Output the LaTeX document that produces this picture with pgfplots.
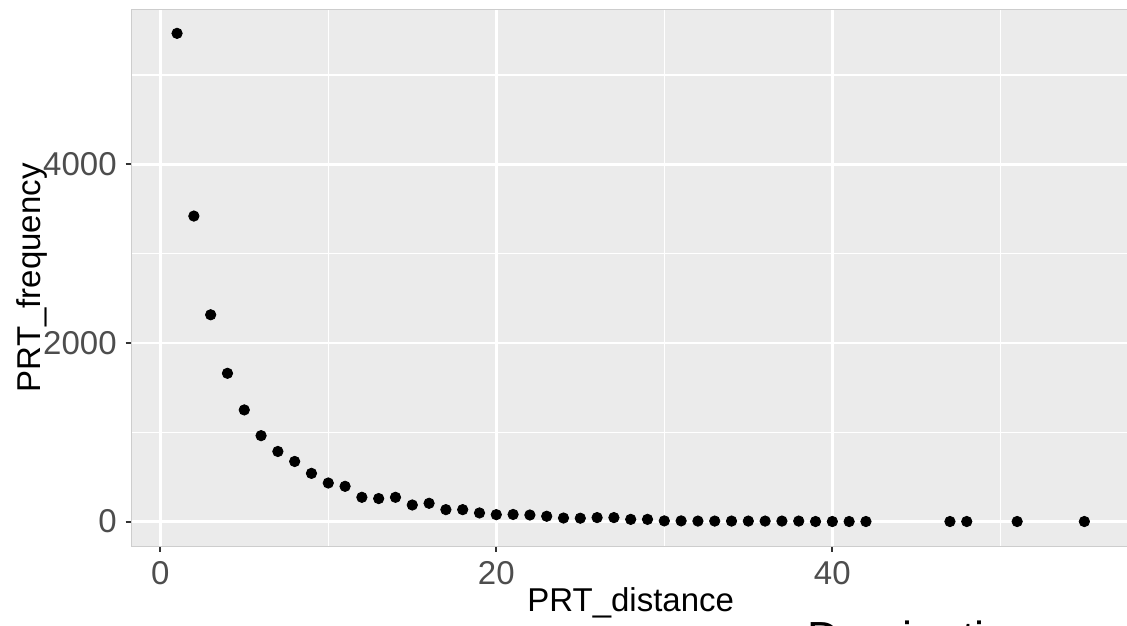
\documentclass[border=0pt]{standalone}
\usepackage{pgfplots}
\pgfplotsset{compat=1.18}
\usepackage{fontspec}
\setmainfont{Liberation Sans}
\definecolor{panelbg}{HTML}{EBEBEB}
\definecolor{ticklab}{HTML}{4D4D4D}
\definecolor{tickcol}{HTML}{333333}
\begin{document}
\begin{tikzpicture}
\begin{axis}[
  name=ax,
  scale only axis,
  width=499pt, height=268.2pt,
  xmin=-1.7, xmax=57.7, ymin=-273, ymax=5731,
  xtick={0,20,40}, ytick={0,2000,4000},
  minor xtick={10,30,50}, minor ytick={1000,3000,5000},
  grid=both,
  major grid style={white, line width=1.4pt},
  minor grid style={white, line width=0.7pt},
  axis background/.style={fill=panelbg},
  axis line style={draw={rgb,255:red,205;green,205;blue,205}, line width=0.4pt},
  tick align=outside,
  xtick pos=left, ytick pos=left,
  major tick length=3pt, minor tick length=0pt,
  tick style={tickcol, line width=0.9pt},
  scaled y ticks=false,
  /pgf/number format/assume math mode=true,
  /pgf/number format/1000 sep={},
  ticklabel style={font=\fontsize{16.5}{18}\selectfont, text=ticklab},
  xticklabel style={yshift=-1pt},
  yticklabel style={xshift=-1pt},
  xlabel={PRT\_distance},
  ylabel={PRT\_frequency},
  every axis x label/.style={at={(axis description cs:0.5,-0.123)}, anchor=base, font=\fontsize{16.5}{18}\selectfont, text=black},
  every axis y label/.style={at={(axis description cs:-0.0909,0.5)}, anchor=base, rotate=90, font=\fontsize{16.5}{18}\selectfont, text=black},
  clip=true,
]
\addplot[only marks, mark=*, mark size=2.6pt, black] coordinates {
(1,5465) (2,3420) (3,2315) (4,1660) (5,1250) (6,962) (7,785) (8,673)
(9,540) (10,432) (11,395) (12,272) (13,258) (14,272) (15,186) (16,205)
(17,134) (18,134) (19,97) (20,78) (21,80) (22,74) (23,60) (24,40)
(25,38) (26,45) (27,45) (28,25) (29,25) (30,8) (31,8) (32,6)
(33,6) (34,6) (35,6) (36,6) (37,6) (38,6) (39,1) (40,1)
(41,1) (42,1) (47,1) (48,1) (51,1) (55,1)
};
\end{axis}
\node[anchor=base west, inner sep=0pt, font=\fontsize{22.5}{24}\selectfont] at ([xshift=337.65pt,yshift=-53.8pt]ax.south west) {Domination};
\pgfresetboundingbox
\path[use as bounding box] ([xshift=-65.85pt,yshift=-39.5pt]ax.south west) rectangle ([xshift=497.65pt,yshift=273pt]ax.south west);
\end{tikzpicture}
\end{document}
